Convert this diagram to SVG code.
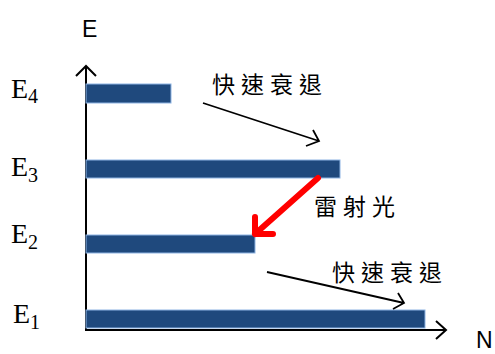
<svg xmlns="http://www.w3.org/2000/svg" width="495" height="354" viewBox="0 0 495 354">
<style>
.bar{fill:#1F497D;stroke:#8EB4E3;stroke-width:1}
.axis{stroke:#000;stroke-width:2;fill:none}
.lbl{font-family:"Liberation Serif",serif;font-size:28px;fill:#000}
.sub{font-size:20px}
.ax{font-family:"Liberation Sans",Arial,sans-serif;font-size:23px;fill:#000}
.zh{font-family:"Noto Sans CJK TC","Noto Sans CJK SC",sans-serif;font-size:23px;letter-spacing:6px;fill:#000}
.arr{stroke:#000;stroke-width:1.8;fill:none}
.red{stroke:#FF0000;stroke-width:6;fill:none;stroke-linecap:round;stroke-linejoin:round}
</style>
<rect width="495" height="354" fill="#fff"/>
<g id="axes">
<path class="axis" d="M86,330 V66 M76,76 L86,66 L96,76"/>
<path class="axis" d="M85,330 H446 M436,321 L446,330 L436,339"/>
<text class="ax" x="82" y="37">E</text>
<text class="ax" x="476" y="348">N</text>
</g>
<g id="E4"><rect class="bar" x="86" y="84" width="85" height="19"/><text class="lbl" x="11" y="98">E<tspan class="sub" dy="5">4</tspan></text></g>
<g id="E3"><rect class="bar" x="86" y="160" width="254" height="18"/><text class="lbl" x="11" y="176">E<tspan class="sub" dy="6">3</tspan></text></g>
<g id="E2"><rect class="bar" x="86" y="235" width="169" height="18"/><text class="lbl" x="11" y="243">E<tspan class="sub" dy="6">2</tspan></text></g>
<g id="E1"><rect class="bar" x="86" y="310" width="339" height="18"/><text class="lbl" x="13" y="323">E<tspan class="sub" dy="6">1</tspan></text></g>
<g id="connectors">
<path class="arr" d="M203,103 L319,141 M313,130 L319,141 L306,146"/>
<path class="arr" d="M267,272 L404,303 M398,293 L404,303 L393,309"/>
<path class="red" d="M318,178 L255,234 M255,217 L255,234 L273,234"/>
</g>
<g id="labels">
<text class="zh" x="212" y="93">快速衰退</text>
<text class="zh" x="314" y="215">雷射光</text>
<text class="zh" x="332" y="281">快速衰退</text>
</g>
</svg>
